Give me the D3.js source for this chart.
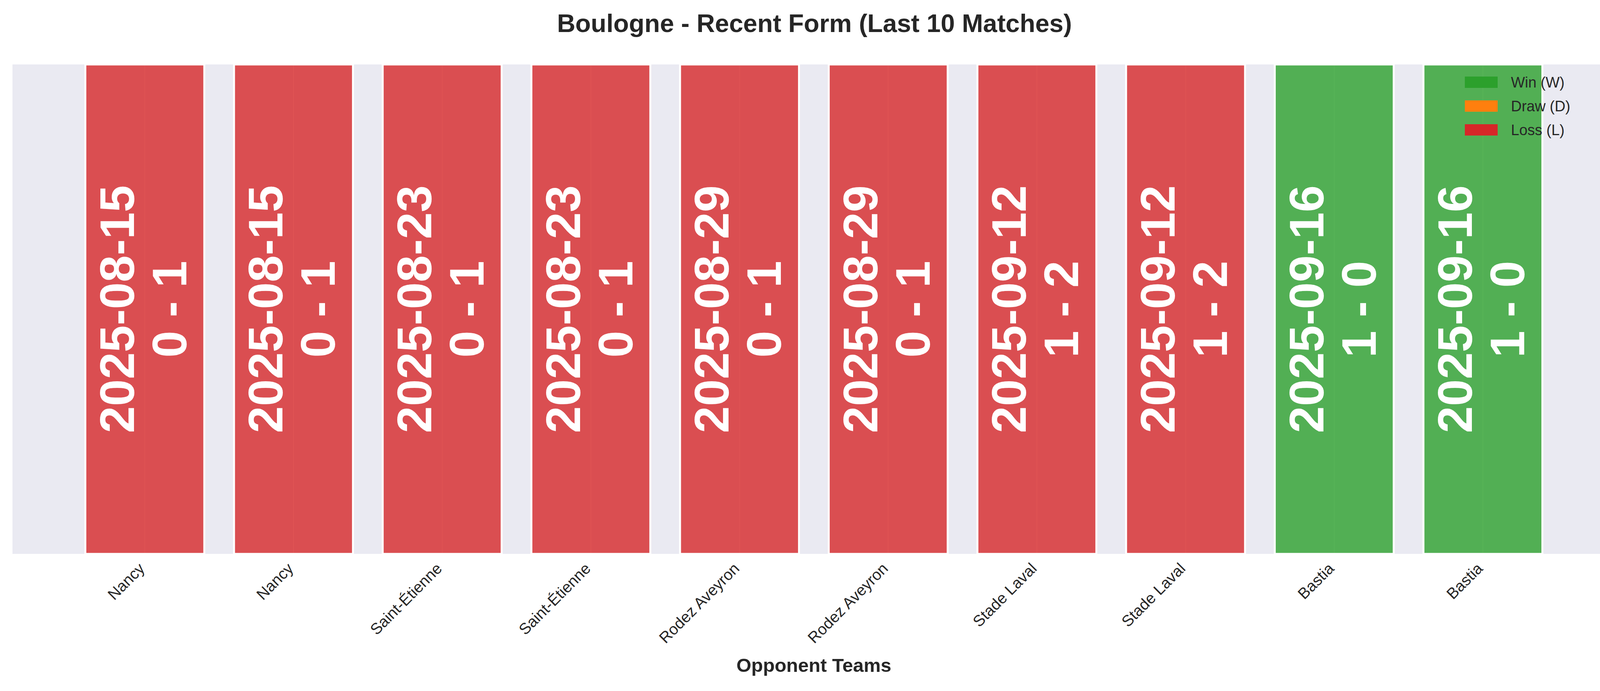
<!DOCTYPE html>
<html>
<head>
<meta charset="utf-8">
<script src="https://cdn.jsdelivr.net/npm/d3@7"></script>
<style>body{margin:0;background:#fff;font-family:"Liberation Sans",Arial,sans-serif;}</style>
</head>
<body>
<div id="chart"></div>
<script>
const opponents = ['Nancy', 'Nancy', 'Saint-Étienne', 'Saint-Étienne', 'Rodez Aveyron', 'Rodez Aveyron', 'Stade Laval', 'Stade Laval', 'Bastia', 'Bastia'];
const dates = ['2025-08-15', '2025-08-15', '2025-08-23', '2025-08-23', '2025-08-29', '2025-08-29', '2025-09-12', '2025-09-12', '2025-09-16', '2025-09-16'];
const scores = ['0 - 1', '0 - 1', '0 - 1', '0 - 1', '0 - 1', '0 - 1', '1 - 2', '1 - 2', '1 - 0', '1 - 0'];
const results = ['L', 'L', 'L', 'L', 'L', 'L', 'L', 'L', 'W', 'W'];
const legendItems = [['W', 'Win (W)'], ['D', 'Draw (D)'], ['L', 'Loss (L)']];
const colors = { W: '#2ca02c', D: '#ff7f0e', L: '#d62728' };

const width = 4170, height = 1769;
const plot = { left: 32, right: 4135, top: 165, bottom: 1418 };

const svg = d3.select('#chart').append('svg').attr('width', width).attr('height', height);

const idx = d3.range(opponents.length);
// xlim roughly [-0.89, 9.89]
const x = d3.scaleLinear().domain([-0.89, 9.89]).range([plot.left, plot.right]);
const y = d3.scaleLinear().domain([0, 1]).range([plot.bottom, plot.top]);
const barW = x(0.8) - x(0);

svg.append('rect').attr('x', plot.left).attr('y', plot.top)
  .attr('width', plot.right - plot.left).attr('height', plot.bottom - plot.top).attr('fill', '#eaeaf2');

// vertical grid at ticks
svg.append('g').selectAll('line').data(idx).join('line')
  .attr('x1', d => x(d)).attr('x2', d => x(d)).attr('y1', plot.top).attr('y2', plot.bottom)
  .attr('stroke', '#fff').attr('stroke-width', 2.5);

const bars = svg.append('g').selectAll('g').data(idx).join('g');
bars.append('rect')
  .attr('x', d => x(d) - barW / 2).attr('y', y(1)).attr('width', barW).attr('height', y(0) - y(1))
  .attr('fill', d => colors[results[d]]).attr('fill-opacity', 0.8)
  .attr('stroke', '#fff').attr('stroke-width', 5);

bars.each(function (d) {
  const g = d3.select(this).append('text')
    .attr('transform', `translate(${x(d)},${y(0.5)}) rotate(-90)`)
    .attr('text-anchor', 'middle').attr('fill', '#fff')
    .attr('font-weight', 'bold').attr('font-size', 124);
  g.append('tspan').attr('x', 0).attr('dy', -28).text(dates[d]);
  g.append('tspan').attr('x', 0).attr('dy', 134).text(scores[d]);
});

// x tick labels
svg.append('g').selectAll('text').data(idx).join('text')
  .attr('transform', d => `translate(${x(d) + 2},${plot.bottom + 40}) rotate(-45)`)
  .attr('text-anchor', 'end').attr('font-size', 40).attr('fill', '#262626')
  .text(d => opponents[d]);

svg.append('text').attr('x', (plot.left + plot.right) / 2).attr('y', 1720)
  .attr('text-anchor', 'middle').attr('font-weight', 'bold').attr('font-size', 49).attr('fill', '#262626')
  .text('Opponent Teams');

svg.append('text').attr('x', width / 2).attr('y', 82)
  .attr('text-anchor', 'middle').attr('font-weight', 'bold').attr('font-size', 65).attr('fill', '#262626')
  .text('Boulogne - Recent Form (Last 10 Matches)');

const legend = svg.append('g').selectAll('g').data(legendItems).join('g')
  .attr('transform', (d, i) => `translate(3750,${196 + i * 61})`);
legend.append('rect').attr('width', 84).attr('height', 29).attr('fill', d => colors[d[0]]);
legend.append('text').attr('x', 118).attr('y', 28).attr('font-size', 38).attr('fill', '#262626').text(d => d[1]);
</script>
</body>
</html>
